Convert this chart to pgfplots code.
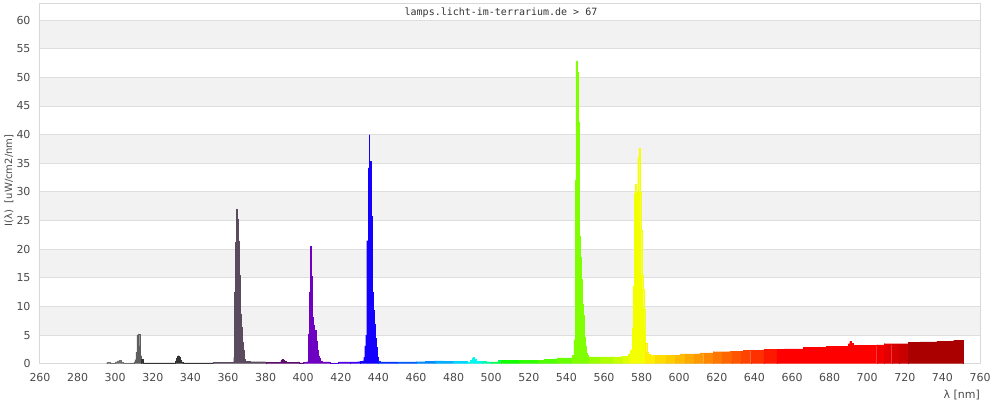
\documentclass[border=0pt]{standalone}
\usepackage{fontspec}
\setmainfont{DejaVu Sans}
\newfontfamily\monofont{DejaVu Sans Mono}
\usepackage{pgfplots}
\usepackage{pgfplotstable}
\pgfplotsset{compat=1.18}
\definecolor{bandgray}{HTML}{F2F2F2}
\definecolor{gridgray}{HTML}{DEDEDE}
\definecolor{framegray}{HTML}{D8D8D8}
\definecolor{ticktext}{HTML}{4A4A4A}
\definecolor{titletext}{HTML}{333333}
% segment colours
\definecolor{s01}{HTML}{707070}
\definecolor{s02}{HTML}{5E5E5E}
\definecolor{s03}{HTML}{333333}
\definecolor{s04}{HTML}{5A4C5E}
\definecolor{s05}{HTML}{5C0A6C}
\definecolor{s06}{HTML}{6E00C2}
\definecolor{s07}{HTML}{5400E4}
\definecolor{s08}{HTML}{3A00F6}
\definecolor{s09}{HTML}{1400FF}
\definecolor{s10}{HTML}{0030FF}
\definecolor{s11}{HTML}{0058FF}
\definecolor{s12}{HTML}{0088FF}
\definecolor{s13}{HTML}{00B0FF}
\definecolor{s14}{HTML}{00D8FF}
\definecolor{s15}{HTML}{00F8F0}
\definecolor{s16}{HTML}{00FFA8}
\definecolor{s17}{HTML}{00FF50}
\definecolor{s18}{HTML}{10FF00}
\definecolor{s19}{HTML}{30FF00}
\definecolor{s20}{HTML}{50FF00}
\definecolor{s21}{HTML}{68FF00}
\definecolor{s22}{HTML}{80FF00}
\definecolor{s23}{HTML}{98FF00}
\definecolor{s24}{HTML}{B0FF00}
\definecolor{s25}{HTML}{C8FF00}
\definecolor{s26}{HTML}{E0FF00}
\definecolor{s27}{HTML}{F4FF00}
\definecolor{s28}{HTML}{FFEE00}
\definecolor{s29}{HTML}{FFDC00}
\definecolor{s30}{HTML}{FFCC00}
\definecolor{s31}{HTML}{FFBB00}
\definecolor{s32}{HTML}{FFAA00}
\definecolor{s33}{HTML}{FF9900}
\definecolor{s34}{HTML}{FF8800}
\definecolor{s35}{HTML}{FF7700}
\definecolor{s36}{HTML}{FF6600}
\definecolor{s37}{HTML}{FF5500}
\definecolor{s38}{HTML}{FF4400}
\definecolor{s39}{HTML}{FF3000}
\definecolor{s40}{HTML}{FF1800}
\definecolor{s41}{HTML}{FF0000}
\definecolor{s42}{HTML}{F20000}
\definecolor{s43}{HTML}{E40000}
\definecolor{s44}{HTML}{D60000}
\definecolor{s45}{HTML}{C80000}
\definecolor{s46}{HTML}{AA0000}

\pgfplotstableread{
x y
295.5 0.2
297.5 0.05
300 0.3
301 0.5
302 0.55
303 0.3
304 0.1
305 0.02
308 0.15
310 0.3
310.5 0.7
311 2.0
311.5 5.0
312 5.2
312.5 5.1
313 3.1
313.5 1.4
314 0.8
315 0.15
332 0.5
332.5 0.9
333 1.3
333.5 1.4
334 1.1
334.5 0.6
335 0.3
336 0.15
352 0.2
362.5 0.3
363 1.1
363.5 12.5
364 21.2
364.3 27.0
364.8 25.3
365.3 21.5
365.9 15.5
366.4 8.7
366.9 6.4
367.4 3.7
368 2.3
368.5 0.8
369 0.4
372 0.35
380 0.2
388 0.4
388.5 0.7
389 0.8
389.5 0.6
390 0.4
391 0.2
397 0.3
398 0.15
400 0.2
402 0.35
402.6 5.2
403.3 12.5
403.8 20.5
404 19.5
404.3 15.3
404.9 8.1
405.4 6.8
405.9 5.8
407 4.0
407.5 2.4
408 1.4
408.6 0.9
409.1 0.5
410.2 0.3
414.3 0.1
415 0.1
418.7 0.3
425 0.3
429 0.35
430 0.4
431.3 0.5
432.2 1.1
432.7 3.1
433.2 5.0
433.8 21.5
434.5 34.2
435 40.0
435.3 35.3
436.1 25.8
436.6 12.5
437.1 9.3
437.7 7.0
438.2 4.5
438.7 2.9
439.3 1.2
440 0.4
441 0.3
450 0.3
460 0.35
465 0.45
470 0.5
475 0.45
480 0.4
487 0.3
489 0.6
490 1.0
490.5 1.1
491 0.8
492 0.5
493 0.4
495 0.4
497.5 0.3
500 0.3
503.8 0.55
505 0.55
515 0.55
525 0.55
528 0.8
535 1.0
543 1.5
544 4.2
544.6 32.1
545.1 52.9
545.6 51.0
546.2 42.2
546.7 22.3
547.2 18.6
547.8 14.8
548.3 10.4
548.8 8.5
549.4 4.6
549.9 3.1
550.4 1.9
551 1.5
551.7 1.2
552 1.2
558 1.2
565 1.2
569.4 1.3
570 1.3
572.9 1.7
574 2.4
574.9 6.2
575.4 13.6
576 29.8
576.5 31.4
576.9 23.6
577.4 30.0
577.9 36.0
578.5 37.7
579 30.0
579.5 23.3
580 15.4
580.6 13.0
581.1 9.6
581.6 5.9
582 3.6
582.7 2.0
583.4 1.6
584.5 1.5
587 1.5
593 1.5
598 1.5
600.5 1.7
603 1.7
608 1.7
611 1.9
613 1.9
618 2.1
623 2.1
627 2.2
628 2.2
633 2.2
634 2.3
638 2.3
645 2.5
652 2.5
656 2.6
666 2.9
678 3.0
689 3.0
690 3.5
690.7 3.9
691.5 3.6
692.5 3.3
693 3.2
705 3.3
709 3.5
713 3.5
717 3.5
722 3.7
728 3.8
737 3.95
746 4.1
751 4.1
}\spec

\newcommand\seg[3]{\addplot[const plot, fill=#3, draw=#3, line width=0.2pt, restrict x to domain=#1:#2, forget plot] table[x=x,y=y] {\spec} \closedcycle;}

\begin{document}
\begin{tikzpicture}
\begin{axis}[
  scale only axis, width=940pt, height=360.7pt,
  xmin=260, xmax=760, ymin=0, ymax=63,
  xtick={260,280,...,760}, ytick={0,5,...,60},
  major tick length=0pt,
  axis line style={framegray, line width=1pt},
  tick label style={font=\fontsize{11}{13}\selectfont, text=ticktext},
  /pgf/number format/assume math mode=true,
  xticklabel style={anchor=north, inner sep=0pt, yshift=-9.8pt},
  yticklabel style={anchor=east, inner sep=0pt, xshift=-9.3pt},
  xlabel={λ [nm]},
  xlabel style={at={(rel axis cs:1,0)}, anchor=north east, inner sep=0pt, yshift=-26.5pt, font=\fontsize{11}{13}\selectfont, text=ticktext},
  ylabel={I(λ)\ \ [uW/cm2/nm]},
  ylabel style={at={(rel axis cs:0,0.5)}, anchor=center, inner sep=0pt, yshift=31pt, xshift=3pt, font=\fontsize{10}{12}\selectfont, text=ticktext},
]
% background bands
\fill[bandgray] (axis cs:260,5) rectangle (axis cs:760,10);
\fill[bandgray] (axis cs:260,15) rectangle (axis cs:760,20);
\fill[bandgray] (axis cs:260,25) rectangle (axis cs:760,30);
\fill[bandgray] (axis cs:260,35) rectangle (axis cs:760,40);
\fill[bandgray] (axis cs:260,45) rectangle (axis cs:760,50);
\fill[bandgray] (axis cs:260,55) rectangle (axis cs:760,60);
\draw[gridgray, line width=1pt] (axis cs:260,5) -- (axis cs:760,5);
\draw[gridgray, line width=1pt] (axis cs:260,10) -- (axis cs:760,10);
\draw[gridgray, line width=1pt] (axis cs:260,15) -- (axis cs:760,15);
\draw[gridgray, line width=1pt] (axis cs:260,20) -- (axis cs:760,20);
\draw[gridgray, line width=1pt] (axis cs:260,25) -- (axis cs:760,25);
\draw[gridgray, line width=1pt] (axis cs:260,30) -- (axis cs:760,30);
\draw[gridgray, line width=1pt] (axis cs:260,35) -- (axis cs:760,35);
\draw[gridgray, line width=1pt] (axis cs:260,40) -- (axis cs:760,40);
\draw[gridgray, line width=1pt] (axis cs:260,45) -- (axis cs:760,45);
\draw[gridgray, line width=1pt] (axis cs:260,50) -- (axis cs:760,50);
\draw[gridgray, line width=1pt] (axis cs:260,55) -- (axis cs:760,55);
\draw[gridgray, line width=1pt] (axis cs:260,60) -- (axis cs:760,60);
% title text
\node[anchor=north, inner sep=0pt, xshift=-9pt, yshift=-5pt, font=\monofont\fontsize{10}{12}\selectfont, text=titletext] at (rel axis cs:0.5,1) {lamps.licht-im-terrarium.de > 67};
% spectrum, coloured by wavelength segment
\seg{295.4}{310.01}{s01}
\seg{309.99}{314.01}{s02}
\seg{313.99}{352.01}{s03}
\seg{351.99}{380.01}{s04}
\seg{379.99}{400.01}{s05}
\seg{399.99}{415.01}{s06}
\seg{414.99}{425.01}{s07}
\seg{424.99}{430.01}{s08}
\seg{429.99}{440.01}{s09}
\seg{439.99}{450.01}{s10}
\seg{449.99}{460.01}{s11}
\seg{459.99}{470.01}{s12}
\seg{469.99}{480.01}{s13}
\seg{479.99}{487.01}{s14}
\seg{486.99}{495.01}{s15}
\seg{494.99}{500.01}{s16}
\seg{499.99}{505.01}{s17}
\seg{504.99}{515.01}{s18}
\seg{514.99}{525.01}{s19}
\seg{524.99}{535.01}{s20}
\seg{534.99}{543.01}{s21}
\seg{542.99}{552.01}{s22}
\seg{551.99}{558.01}{s23}
\seg{557.99}{565.01}{s24}
\seg{564.99}{570.01}{s25}
\seg{569.99}{574.01}{s26}
\seg{573.99}{582.01}{s27}
\seg{581.99}{587.01}{s28}
\seg{586.99}{593.01}{s29}
\seg{592.99}{598.01}{s30}
\seg{597.99}{603.01}{s31}
\seg{602.99}{608.01}{s32}
\seg{607.99}{613.01}{s33}
\seg{612.99}{618.01}{s34}
\seg{617.99}{623.01}{s35}
\seg{622.99}{628.01}{s36}
\seg{627.99}{633.01}{s37}
\seg{632.99}{638.01}{s38}
\seg{637.99}{645.01}{s39}
\seg{644.99}{652.01}{s40}
\seg{651.99}{705.01}{s41}
\seg{704.99}{709.01}{s42}
\seg{708.99}{713.01}{s43}
\seg{712.99}{717.01}{s44}
\seg{716.99}{722.01}{s45}
\seg{721.99}{751.01}{s46}
\coordinate (SW) at (rel axis cs:0,0);
\coordinate (NE) at (rel axis cs:1,1);
\end{axis}
\pgfresetboundingbox
\path ([shift={(-40pt,-36.5pt)}]SW) rectangle ([shift={(20pt,3pt)}]NE);
\end{tikzpicture}
\end{document}
